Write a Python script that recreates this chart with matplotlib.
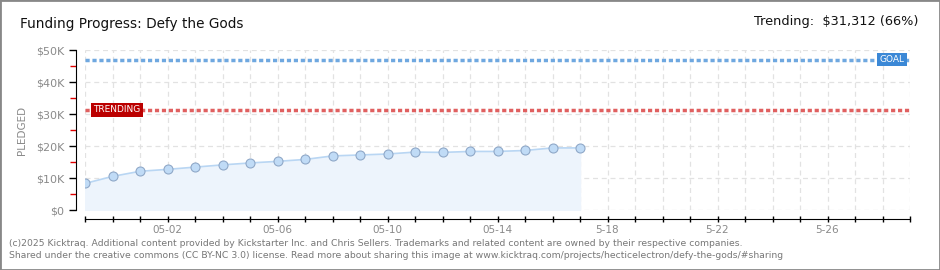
import datetime
import numpy as np
import matplotlib
matplotlib.use("Agg")
import matplotlib.pyplot as plt
import matplotlib.dates as mdates
from matplotlib.patches import Rectangle

# 数据 (单位: 千美元)
dates = ["2025-04-29", "2025-04-30", "2025-05-01", "2025-05-02", "2025-05-03",
         "2025-05-04", "2025-05-05", "2025-05-06", "2025-05-07", "2025-05-08",
         "2025-05-09", "2025-05-10", "2025-05-11", "2025-05-12", "2025-05-13",
         "2025-05-14", "2025-05-15", "2025-05-16", "2025-05-17"]
pledged = [8.3, 10.5, 12.1, 12.7, 13.4, 14.1, 14.7, 15.2, 15.8, 16.9,
           17.2, 17.5, 18.1, 18.0, 18.3, 18.3, 18.6, 19.4, 19.4]
goal = 47.0
trending = 31.312
x_start = "2025-04-29"
x_end = "2025-05-29"
y_ticks = [0, 10, 20, 30, 40, 50]
y_labels = ["$0", "$10K", "$20K", "$30K", "$40K", "$50K"]
label_dates = ["2025-05-02", "2025-05-06", "2025-05-10", "2025-05-14",
               "2025-05-18", "2025-05-22", "2025-05-26"]
label_texts = ["05-02", "05-06", "05-10", "05-14", "5-18", "5-22", "5-26"]

plt.rcParams['font.family'] = ['DejaVu Sans']

x = [datetime.datetime.strptime(d, "%Y-%m-%d") for d in dates]
x0 = datetime.datetime.strptime(x_start, "%Y-%m-%d")
x1 = datetime.datetime.strptime(x_end, "%Y-%m-%d")

fig = plt.figure(figsize=(9.4, 2.7), dpi=100)
ax = fig.add_axes([85 / 940, 60 / 270, 825 / 940, 160 / 270])

# 面积和折线
ax.fill_between(x, pledged, 0, color="#edf4fc", zorder=1)
ax.plot(x, pledged, color="#b9d6f3", lw=1.2, zorder=3)
ax.scatter(x, pledged, s=42, color="#c0dbf6", edgecolor="#8fa8c8", lw=0.8, zorder=4)

# 目标线和趋势线
ax.axhline(goal, color="#6fa8e0", lw=2.5, ls=(0, (1.2, 0.8)), zorder=2)
ax.axhline(trending, color="#e06060", lw=2.5, ls=(0, (1.2, 0.8)), zorder=2)

ax.set_xlim(x0, x1)
ax.set_ylim(0, 50)

# 网格
ax.set_yticks(y_ticks)
ax.set_yticklabels(y_labels)
ax.set_yticks([5, 15, 25, 35, 45], minor=True)
ax.xaxis.set_major_locator(mdates.DayLocator())
ax.set_xticklabels([])
ax.grid(True, color="#e2e2e2", ls=(0, (4, 3)), lw=0.9, zorder=0)
ax.set_axisbelow(True)

for s in ["top", "right"]:
    ax.spines[s].set_visible(False)
ax.spines["left"].set_position(("outward", 6.5))
ax.spines["bottom"].set_position(("outward", 6.5))
ax.spines["left"].set_bounds(0, 50)
ax.tick_params(axis="y", which="major", length=5, width=1, colors="black",
               labelcolor="#8a8a8a", labelsize=8)
ax.tick_params(axis="y", which="minor", length=4, width=1, colors="#e00000")
ax.tick_params(axis="x", which="major", length=4, width=1, direction="inout")

for d, t in zip(label_dates, label_texts):
    xd = mdates.date2num(datetime.datetime.strptime(d, "%Y-%m-%d"))
    ax.annotate(t, (xd, 0), xycoords=("data", "axes fraction"), xytext=(0, -14.5),
                textcoords="offset points", ha="center", va="center",
                fontsize=7.5, color="#8a8a8a")

ax.set_ylabel("PLEDGED", color="#8a8a8a", fontsize=7.5, labelpad=6)

# 标签框
ax.text(mdates.date2num(x0) + 0.3, trending, "TRENDING", color="white", fontsize=6.5,
        ha="left", va="center", zorder=6,
        bbox=dict(boxstyle="square,pad=0.25", fc="#bb0000", ec="none"))
ax.text(mdates.date2num(x1) - 0.2, goal, "GOAL", color="white", fontsize=6.5,
        ha="right", va="center", zorder=6,
        bbox=dict(boxstyle="square,pad=0.25", fc="#3b88d6", ec="none"))

# 标题
fig.text(20 / 940, 1 - 24 / 270, "Funding Progress: Defy the Gods", fontsize=9.8,
         ha="left", va="center", color="#111111")
fig.text(918 / 940, 1 - 22 / 270, "Trending:  $31,312 (66%)", fontsize=9.3,
         ha="right", va="center", color="#111111")

# 页脚
fig.text(9 / 940, 1 - 243 / 270,
         "(c)2025 Kicktraq. Additional content provided by Kickstarter Inc. and Chris Sellers. "
         "Trademarks and related content are owned by their respective companies.",
         fontsize=6.7, color="#777777", ha="left", va="center")
fig.text(9 / 940, 1 - 256 / 270,
         "Shared under the creative commons (CC BY-NC 3.0) license. Read more about sharing this "
         "image at www.kicktraq.com/projects/hecticelectron/defy-the-gods/#sharing",
         fontsize=6.7, color="#777777", ha="left", va="center")

# 边框
fig.patches.append(Rectangle((0, 0), 1, 1, transform=fig.transFigure, fill=False,
                             ec="#888888", lw=2))

fig.savefig("out.png", dpi=100)
